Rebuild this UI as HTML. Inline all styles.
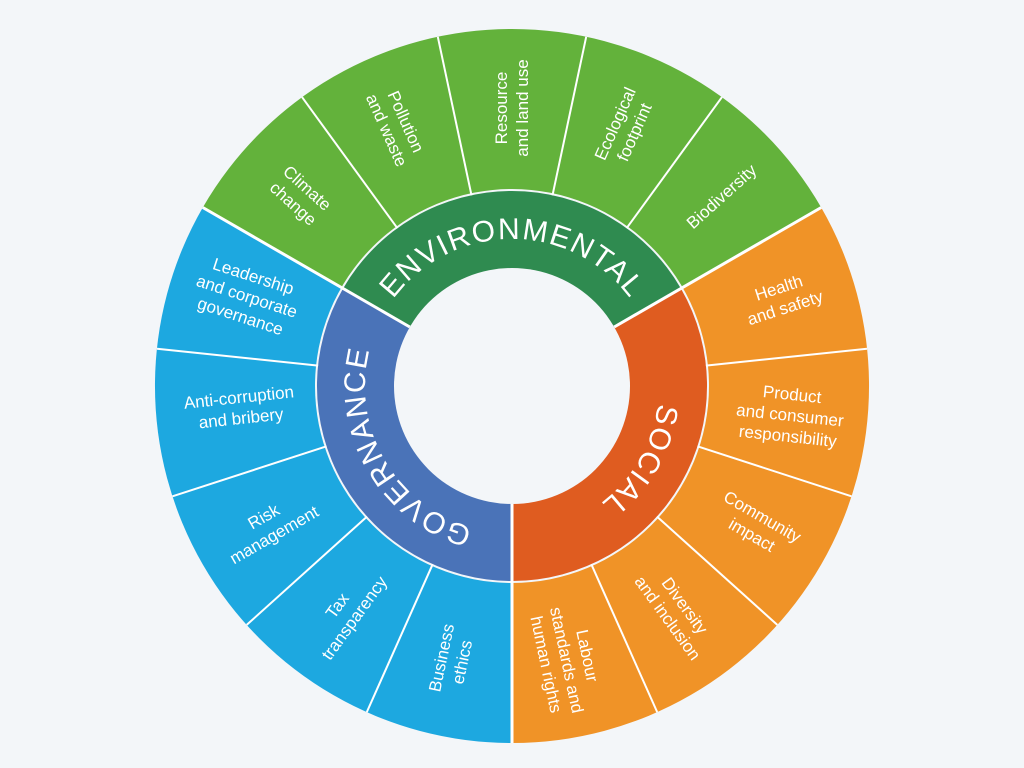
<!DOCTYPE html>
<html><head><meta charset="utf-8"><style>
html,body{margin:0;padding:0;background:#f3f6f9;}
svg{display:block;}
text{font-family:"Liberation Sans",sans-serif;fill:#fff;}
.o{font-size:17px;text-anchor:middle;}
.r{font-size:30px;letter-spacing:1.5px;}
</style></head><body>
<svg width="1024" height="768" viewBox="0 0 1024 768">
<rect width="1024" height="768" fill="#f3f6f9"/>
<path d="M512,386 L202.8,207.5 A357,357 0 0 1 821.2,207.5 Z" fill="#63b23b"/>
<path d="M512,386 L821.2,207.5 A357,357 0 0 1 512,743 Z" fill="#f09327"/>
<path d="M512,386 L512,743 A357,357 0 0 1 202.8,207.5 Z" fill="#1da8e0"/>
<circle cx="512" cy="386" r="197" fill="#f3f6f9"/>
<path d="M512,386 L343.1,288.5 A195,195 0 0 1 680.9,288.5 Z" fill="#2f8b50"/>
<path d="M512,386 L680.9,288.5 A195,195 0 0 1 512,581 Z" fill="#df5c20"/>
<path d="M512,386 L512,581 A195,195 0 0 1 343.1,288.5 Z" fill="#4a73b8"/>
<circle cx="512" cy="386" r="118" fill="#f3f6f9"/>
<g stroke="#fff" stroke-width="3">
<line x1="409.8" y1="327" x2="202.8" y2="207.5"/>
<line x1="614.2" y1="327" x2="821.2" y2="207.5"/>
<line x1="512" y1="504" x2="512" y2="743"/>
</g>
<g stroke="#fff" stroke-width="2">
<line x1="397.4" y1="228.2" x2="302.1" y2="97.2"/>
<line x1="471.5" y1="195.3" x2="437.8" y2="36.8"/>
<line x1="552.5" y1="195.3" x2="586.2" y2="36.8"/>
<line x1="626.6" y1="228.2" x2="721.9" y2="97.2"/>
<line x1="705.9" y1="365.6" x2="867" y2="348.7"/>
<line x1="697.5" y1="446.3" x2="851.5" y2="496.3"/>
<line x1="656.9" y1="516.5" x2="777.3" y2="624.9"/>
<line x1="591.3" y1="564.2" x2="657.2" y2="712.1"/>
<line x1="432.7" y1="564.2" x2="366.8" y2="712.1"/>
<line x1="367.1" y1="516.5" x2="246.7" y2="624.9"/>
<line x1="326.5" y1="446.3" x2="172.5" y2="496.3"/>
<line x1="318.1" y1="365.6" x2="157" y2="348.7"/>
</g>
<defs>
<path id="pe" d="M384.7,312.5 A147,147 0 0 1 639.3,312.5"/>
<path id="ps" d="M639.3,312.5 A147,147 0 0 1 512,533"/>
<path id="pg" d="M512,533 A147,147 0 0 1 384.7,312.5"/>
</defs>
<text class="r"><textPath href="#pe" startOffset="50%" text-anchor="middle">ENVIRONMENTAL</textPath></text>
<text class="r"><textPath href="#ps" startOffset="50%" text-anchor="middle">SOCIAL</textPath></text>
<text class="r"><textPath href="#pg" startOffset="50%" text-anchor="middle">GOVERNANCE</textPath></text>

<text class="o" transform="translate(300,196) rotate(42)"><tspan x="0" dy="-5">Climate</tspan><tspan x="0" dy="21">change</tspan></text>
<text class="o" transform="translate(396,126) rotate(66)"><tspan x="0" dy="-5">Pollution</tspan><tspan x="0" dy="21">and waste</tspan></text>
<text class="o" transform="translate(512,108) rotate(-90)"><tspan x="0" dy="-5">Resource</tspan><tspan x="0" dy="21">and land use</tspan></text>
<text class="o" transform="translate(625,128) rotate(-66)"><tspan x="0" dy="-5">Ecological</tspan><tspan x="0" dy="21">footprint</tspan></text>
<text class="o" transform="translate(722,197) rotate(-42)"><tspan x="0" dy="5">Biodiversity</tspan></text>
<text class="o" transform="translate(782,298) rotate(-18)"><tspan x="0" dy="-5">Health</tspan><tspan x="0" dy="21">and safety</tspan></text>
<text class="o" transform="translate(790,415) rotate(6)"><tspan x="0" dy="-15">Product</tspan><tspan x="0" dy="21">and consumer</tspan><tspan x="0" dy="21">responsibility</tspan></text>
<text class="o" transform="translate(757,526) rotate(30)"><tspan x="0" dy="-5">Community</tspan><tspan x="0" dy="21">impact</tspan></text>
<text class="o" transform="translate(676,612) rotate(54)"><tspan x="0" dy="-5">Diversity</tspan><tspan x="0" dy="21">and inclusion</tspan></text>
<text class="o" transform="translate(567,660) rotate(78)"><tspan x="0" dy="-15">Labour</tspan><tspan x="0" dy="21">standards and</tspan><tspan x="0" dy="21">human rights</tspan></text>
<text class="o" transform="translate(452,660) rotate(-78)"><tspan x="0" dy="-5">Business</tspan><tspan x="0" dy="21">ethics</tspan></text>
<text class="o" transform="translate(346,612) rotate(-54)"><tspan x="0" dy="-5">Tax</tspan><tspan x="0" dy="21">transparency</tspan></text>
<text class="o" transform="translate(269,526) rotate(-30)"><tspan x="0" dy="-5">Risk</tspan><tspan x="0" dy="21">management</tspan></text>
<text class="o" transform="translate(240,408) rotate(-6)"><tspan x="0" dy="-5">Anti-corruption</tspan><tspan x="0" dy="21">and bribery</tspan></text>
<text class="o" transform="translate(247,296) rotate(18)"><tspan x="0" dy="-15">Leadership</tspan><tspan x="0" dy="21">and corporate</tspan><tspan x="0" dy="21">governance</tspan></text>
</svg>
</body></html>
